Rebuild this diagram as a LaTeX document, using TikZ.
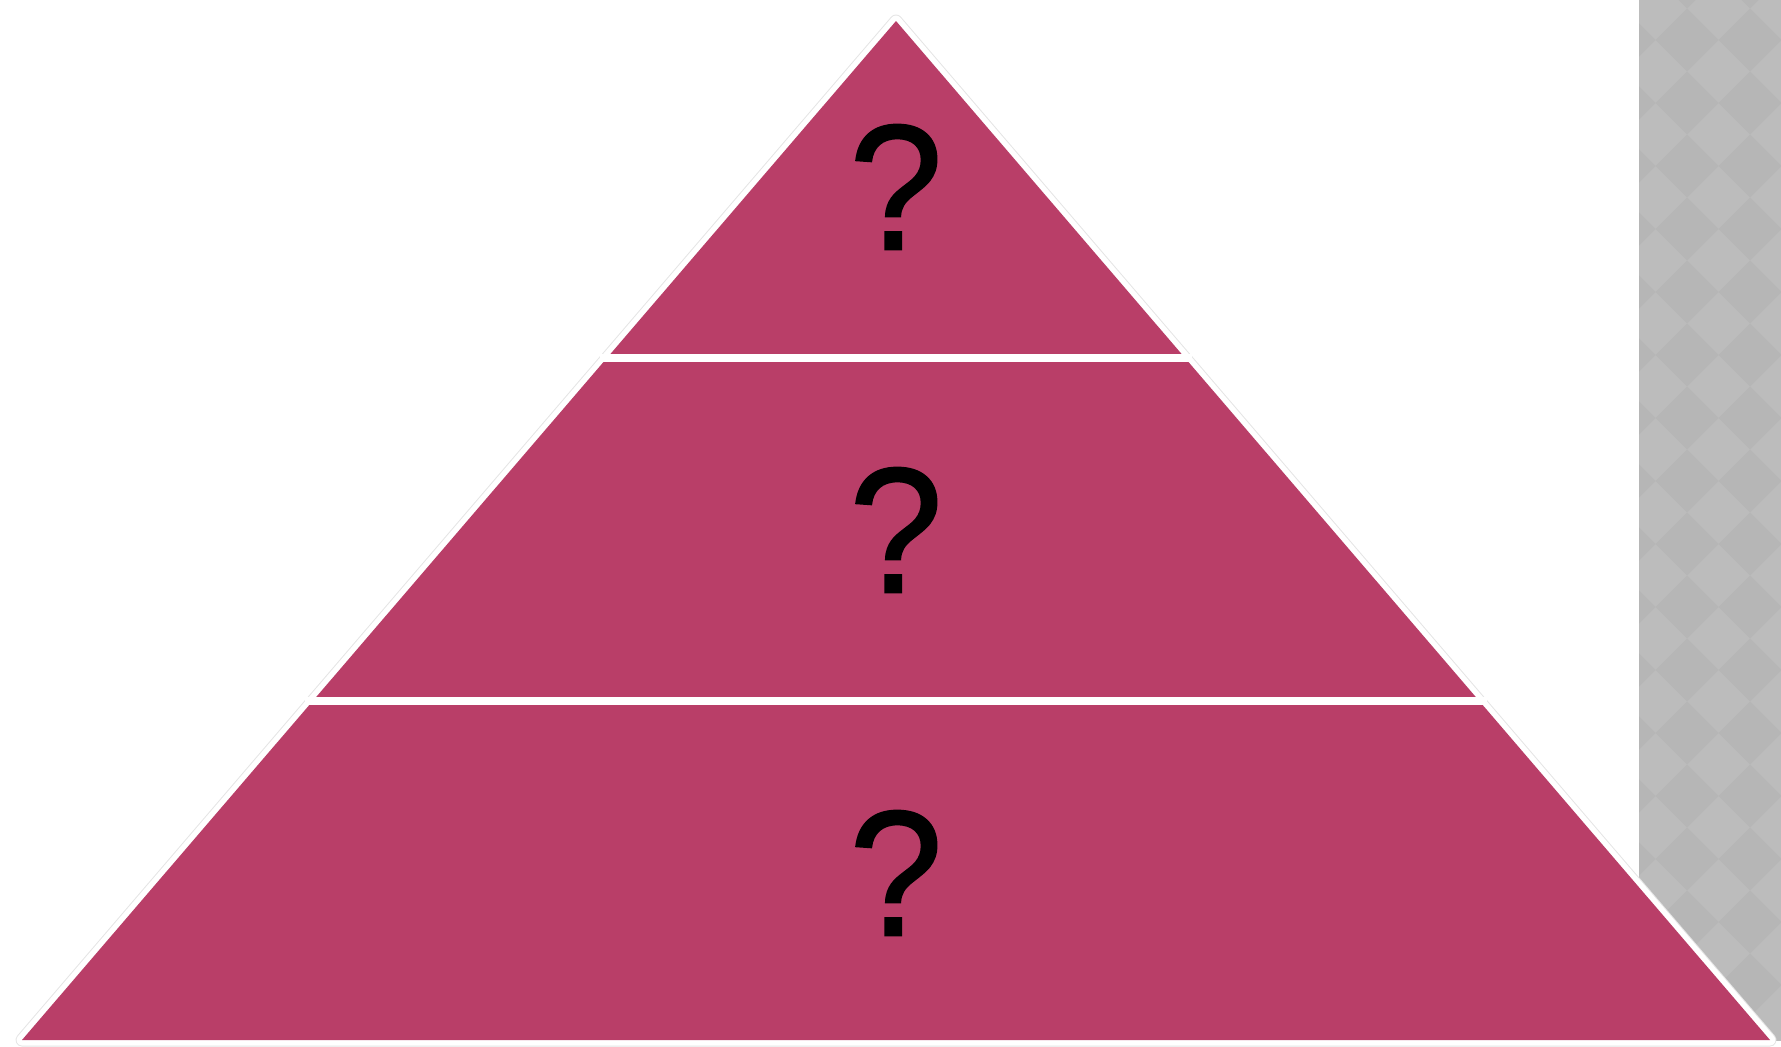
\documentclass[tikz,border=0pt]{standalone}
\usepackage{fontspec}
\setmainfont{Liberation Sans}
\usetikzlibrary{positioning}
\definecolor{layerpink}{RGB}{185,62,104}
\definecolor{bggray}{RGB}{188,188,188}
\definecolor{diagray}{RGB}{182,182,182}

\begin{document}
\begin{tikzpicture}[x=1pt, y=-1pt,
    layer/.style={fill=layerpink},
    rim/.style={draw=white, line width=11pt, line join=round},
    shade/.style={draw=black!10, line width=13pt, line join=round},
    sep/.style={draw=white, line width=8pt},
    qmark/.style={font=\fontsize{179}{179}\selectfont\addfontfeature{FakeBold=1,FakeStretch=0.94}, text=black, inner sep=0pt},
]
\useasboundingbox (0,0) rectangle (1781,1047);
% patterned strip on the right
\fill[bggray] (1639,0) rectangle (1781,1041);
\begin{scope}
\clip (1639,0) rectangle (1781,1041);
\foreach \cx in {1624,1687,1750,1813} {
  \foreach \cy in {-23,40,...,1100} {
    \fill[diagray] (\cx-31.5,\cy) -- (\cx,\cy-31.5) -- (\cx+31.5,\cy) -- (\cx,\cy+31.5) -- cycle;
  }
}
\end{scope}
% pyramid corners and layer borders
\coordinate (apex) at (896,21);
\coordinate (bl) at (22,1040);
\coordinate (br) at (1770,1040);
\coordinate (l1) at (600,358);
\coordinate (r1) at (1192,358);
\coordinate (l2) at (305,701);
\coordinate (r2) at (1487,701);
% pyramid body
\draw[shade] (apex) -- (br) -- (bl) -- cycle;
\draw[rim] (apex) -- (br) -- (bl) -- cycle;
\fill[layer] (apex) -- (br) -- (bl) -- cycle;
\draw[sep] (l1) -- (r1);
\draw[sep] (l2) -- (r2);
% labels
\node[qmark] (top) at (896,187) {?};
\node[qmark] (mid) at (896,530) {?};
\node[qmark] (base) at (896,873) {?};
\end{tikzpicture}
\end{document}
